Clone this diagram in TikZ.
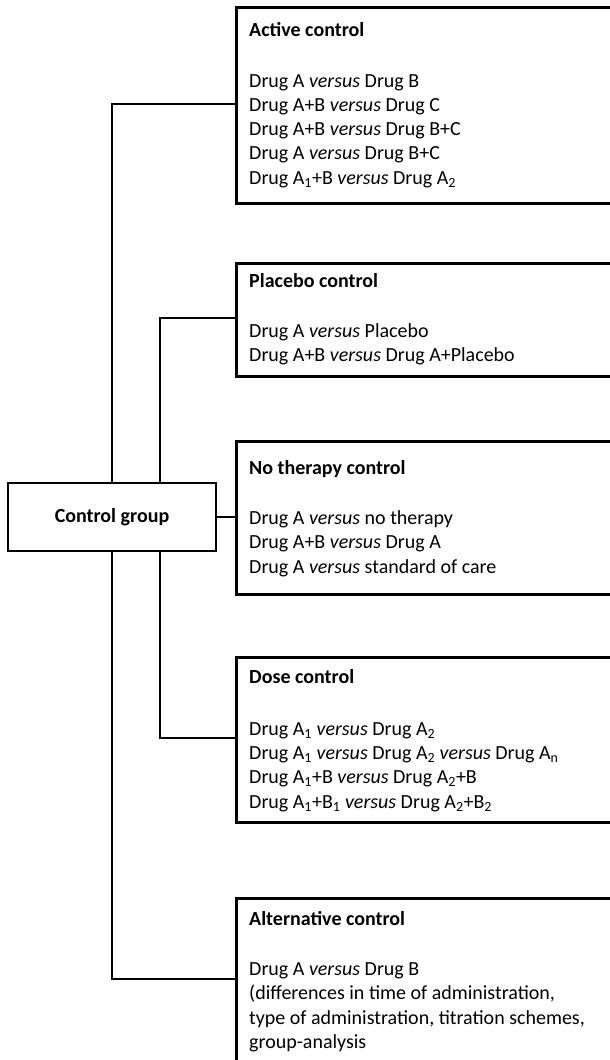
\documentclass[tikz,border=0pt]{standalone}
\usepackage{fontspec}
\setmainfont{Carlito}
\newcommand{\versus}{\textit{versus}}
\begin{document}
\begin{tikzpicture}[x=1pt,y=-1pt,
  every node/.style={font=\fontsize{20}{24}\selectfont},
  box/.style={draw, line width=2.6pt, anchor=north west, inner sep=0pt, minimum width=430pt},
  txt/.style={anchor=base west, inner sep=0pt},
  ttl/.style={anchor=base west, inner sep=0pt, font=\fontsize{20}{24}\selectfont\bfseries},
  link/.style={line width=2.4pt}]
\useasboundingbox (0,0) rectangle (610,1060);

% boxes
\node[box, minimum height=196pt] (active) at (235,6) {};
\node[box, minimum height=113pt] (placebo) at (235,262) {};
\node[box, minimum height=153pt] (nother) at (235,440) {};
\node[box, minimum height=165pt] (dose) at (235,656) {};
\node[box, minimum height=200pt] (alt) at (235,897) {};
\node[draw, line width=2.6pt, minimum width=208pt, minimum height=68pt,
      font=\fontsize{20}{24}\selectfont\bfseries] (ctrl) at (112,517) {Control group};

% connector ends on the boxes
\coordinate (pA) at (active.west |- 0,104);
\coordinate (pB) at (placebo.west |- 0,318);
\coordinate (pD) at (dose.west |- 0,738);
\coordinate (pE) at (alt.west |- 0,979);
\coordinate (pC) at (nother.west |- ctrl.east);

\draw[link] (ctrl.north) |- (pA);
\draw[link] ([xshift=48pt]ctrl.north) |- (pB);
\draw[link] (ctrl.east) -- (pC);
\draw[link] ([xshift=48pt]ctrl.south) |- (pD);
\draw[link] (ctrl.south) |- (pE);

% Active control
\node[ttl] (tA) at (249,36) {Active control};
\foreach \t [count=\i] in {{Drug A \versus{} Drug B},
  {Drug A+B \versus{} Drug C},
  {Drug A+B \versus{} Drug B+C},
  {Drug A \versus{} Drug B+C},
  {Drug A\textsubscript{1}+B \versus{} Drug A\textsubscript{2}}}
  \node[txt] (a\i) at (249,{87+24.3*(\i-1)}) {\t};

% Placebo control
\node[ttl] (tB) at (249,287) {Placebo control};
\foreach \t [count=\i] in {{Drug A \versus{} Placebo},
  {Drug A+B \versus{} Drug A+Placebo}}
  \node[txt] (b\i) at (249,{337+24.3*(\i-1)}) {\t};

% No therapy control
\node[ttl] (tC) at (249,474) {No therapy control};
\foreach \t [count=\i] in {{Drug A \versus{} no therapy},
  {Drug A+B \versus{} Drug A},
  {Drug A \versus{} standard of care}}
  \node[txt] (c\i) at (249,{524+24.5*(\i-1)}) {\t};

% Dose control
\node[ttl] (tD) at (249,683) {Dose control};
\foreach \t [count=\i] in {{Drug A\textsubscript{1} \versus{} Drug A\textsubscript{2}},
  {Drug A\textsubscript{1} \versus{} Drug A\textsubscript{2} \versus{} Drug A\textsubscript{n}},
  {Drug A\textsubscript{1}+B \versus{} Drug A\textsubscript{2}+B},
  {Drug A\textsubscript{1}+B\textsubscript{1} \versus{} Drug A\textsubscript{2}+B\textsubscript{2}}}
  \node[txt] (d\i) at (249,{735+24.4*(\i-1)}) {\t};

% Alternative control
\node[ttl] (tE) at (249,925) {Alternative control};
\foreach \t [count=\i] in {{Drug A \versus{} Drug B},
  {(differences in time of administration,},
  {type of administration, titration schemes,},
  {group-analysis}}
  \node[txt] (e\i) at (249,{975+24.5*(\i-1)}) {\t};
\end{tikzpicture}
\end{document}
